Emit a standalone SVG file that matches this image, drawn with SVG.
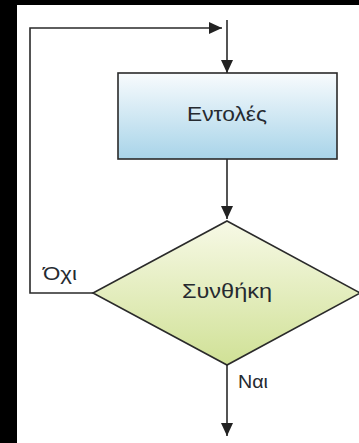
<svg xmlns="http://www.w3.org/2000/svg" width="359" height="443" viewBox="0 0 359 443">
  <defs>
    <linearGradient id="boxFill" x1="0" y1="0" x2="0" y2="1">
      <stop offset="0" stop-color="#f8fbfd"/>
      <stop offset="1" stop-color="#a8d4e9"/>
    </linearGradient>
    <linearGradient id="decisionFill" x1="0" y1="0" x2="0" y2="1">
      <stop offset="0" stop-color="#f7f9e6"/>
      <stop offset="1" stop-color="#d0e196"/>
    </linearGradient>
    <marker id="arrow" viewBox="0 0 13 12" refX="13" refY="6" markerWidth="13" markerHeight="12" orient="auto" markerUnits="userSpaceOnUse">
      <path d="M0,0 L13,6 L0,12 z" fill="#222"/>
    </marker>
    <style>
      .shape { stroke: #2a2a2a; stroke-width: 1.6; }
      .conn { fill: none; stroke: #2a2a2a; stroke-width: 1.6; marker-end: url(#arrow); }
      .label { font-family: "Liberation Sans", Arial, sans-serif; fill: #262a30; }
    </style>
  </defs>

  <!-- page -->
  <rect x="0" y="0" width="359" height="443" fill="#000"/>
  <rect x="17" y="5" width="342" height="438" fill="#fff"/>

  <g id="connectors">
    <path class="conn" d="M227,20 V73"/>
    <path class="conn" d="M227,159 V219"/>
    <path class="conn" d="M93,293 H30 V28 H222"/>
    <path class="conn" d="M227,365 V436"/>
  </g>

  <g id="statements">
    <rect class="shape" x="118" y="73" width="219" height="86" fill="url(#boxFill)"/>
    <text class="label" x="227" y="121" font-size="21" text-anchor="middle" textLength="80" lengthAdjust="spacingAndGlyphs">Εντολές</text>
  </g>

  <g id="condition">
    <polygon class="shape" points="227,221 360,293 227,365 93,293" fill="url(#decisionFill)"/>
    <text class="label" x="227" y="298" font-size="21" text-anchor="middle" textLength="90" lengthAdjust="spacingAndGlyphs">Συνθήκη</text>
  </g>

  <g id="label-no">
    <text class="label" x="43" y="280" font-size="18" textLength="34" lengthAdjust="spacingAndGlyphs">Όχι</text>
  </g>

  <g id="label-yes">
    <text class="label" x="238" y="388" font-size="19" textLength="30" lengthAdjust="spacingAndGlyphs">Ναι</text>
  </g>
</svg>
